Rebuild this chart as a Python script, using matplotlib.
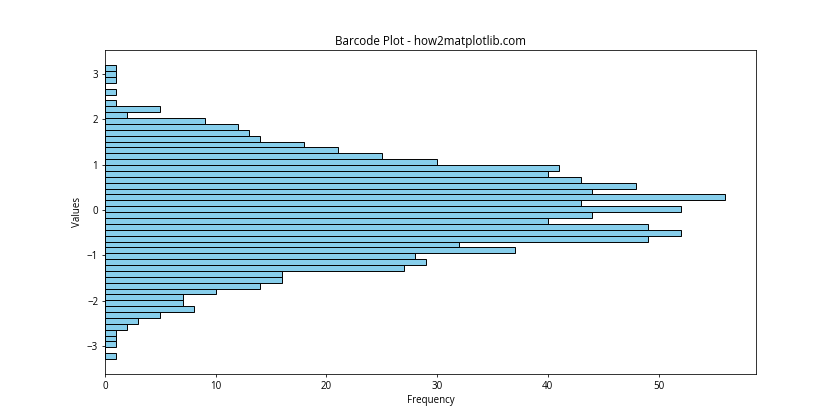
import numpy as np
import matplotlib
matplotlib.use('Agg')
import matplotlib.pyplot as plt

plt.rcParams['font.family'] = ['Open Sans', 'DejaVu Sans']

# histogram counts, lowest bin first
counts = [1, 0, 1, 1, 1, 2, 3, 5, 8, 7,
          7, 10, 14, 16, 16, 27, 29, 28, 37, 32,
          49, 52, 49, 40, 44, 52, 43, 56, 44, 48,
          43, 40, 41, 30, 25, 21, 18, 14, 13, 12,
          9, 2, 5, 1, 0, 1, 0, 1, 1, 1]
value_min = -3.28
value_max = 3.19

title = 'Barcode Plot - how2matplotlib.com'
xlabel = 'Frequency'
ylabel = 'Values'

edges = np.linspace(value_min, value_max, len(counts) + 1)
centers = (edges[:-1] + edges[1:]) / 2

fig, ax = plt.subplots(figsize=(12, 6), dpi=70)
ax.hist(centers, bins=edges, weights=counts, orientation='horizontal',
        color='skyblue', edgecolor='black')
ax.set_title(title)
ax.set_xlabel(xlabel)
ax.set_ylabel(ylabel)

fig.savefig('out.png')
